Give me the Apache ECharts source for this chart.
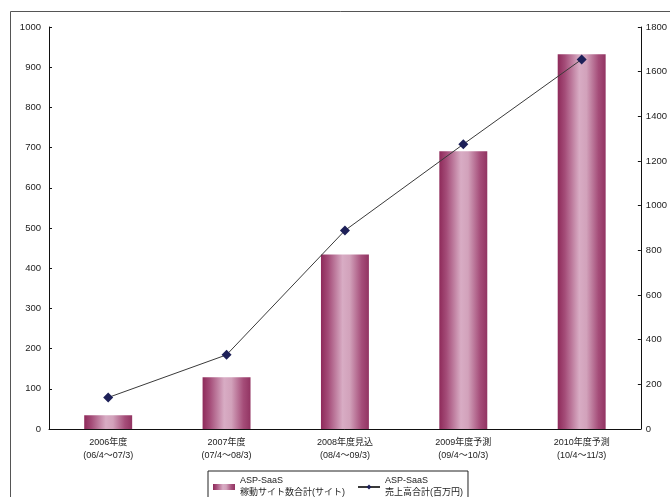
<!DOCTYPE html>
<html>
<head>
<meta charset="utf-8">
<script src="https://cdn.jsdelivr.net/npm/echarts@6/dist/echarts.min.js"></script>
<style>
html,body{margin:0;padding:0;background:#fff;}
#main{width:670px;height:497px;}
</style>
</head>
<body>
<div id="main"></div>
<script>
const categories = [
  '2006年度\n(06/4～07/3)',
  '2007年度\n(07/4～08/3)',
  '2008年度見込\n(08/4～09/3)',
  '2009年度予測\n(09/4～10/3)',
  '2010年度予測\n(10/4～11/3)'
];
const siteCounts = [34, 129, 434, 691, 932];
const salesTotals = [141, 332, 889, 1275, 1655];
const leftTicks = {min: 0, max: 1000, interval: 100};
const rightTicks = {min: 0, max: 1800, interval: 200};
const barName = 'ASP-SaaS\n稼動サイト数合計(サイト)';
const lineName = 'ASP-SaaS\n売上高合計(百万円)';

const FONT = '"Liberation Sans", "Noto Sans CJK JP", sans-serif';
const chart = echarts.init(document.getElementById('main'));
const barGrad = new echarts.graphic.LinearGradient(0, 0, 1, 0, [
  {offset: 0, color: '#8e2a5a'},
  {offset: 0.15, color: '#a44c78'},
  {offset: 0.45, color: '#d8acc4'},
  {offset: 0.6, color: '#d2a2bb'},
  {offset: 0.85, color: '#a54d79'},
  {offset: 1, color: '#923462'}
]);
const plain = v => String(v);
chart.setOption({
  animation: false,
  backgroundColor: '#fff',
  textStyle: {fontFamily: FONT},
  graphic: [{
    type: 'rect', left: 8, top: 9, silent: true,
    shape: {width: 720, height: 600},
    style: {fill: 'none', stroke: '#555', lineWidth: 1}
  }],
  grid: {left: 49, right: 29, top: 27, bottom: 68},
  legend: {
    left: 208, top: 471,
    padding: [4, 5, 4, 5],
    borderColor: '#222', borderWidth: 1,
    itemWidth: 22, itemHeight: 6, itemGap: 12,
    textStyle: {fontFamily: FONT, fontSize: 9, color: '#222', lineHeight: 12},
    data: [
      {name: barName, icon: 'rect'},
      {name: lineName}
    ]
  },
  xAxis: {
    type: 'category',
    data: categories,
    axisLine: {lineStyle: {color: '#111', width: 1}},
    axisTick: {inside: true, length: 3, lineStyle: {color: '#111'}},
    axisLabel: {fontFamily: FONT, fontSize: 9, color: '#222', lineHeight: 13, margin: 7},
    splitLine: {show: false}
  },
  yAxis: [{
    type: 'value',
    min: leftTicks.min, max: leftTicks.max, interval: leftTicks.interval,
    axisLine: {show: true, lineStyle: {color: '#111'}},
    axisTick: {show: true, inside: true, length: 3, lineStyle: {color: '#111'}},
    axisLabel: {fontFamily: FONT, fontSize: 9.5, color: '#222', margin: 8, formatter: plain},
    splitLine: {show: false}
  }, {
    type: 'value',
    position: 'right',
    min: rightTicks.min, max: rightTicks.max, interval: rightTicks.interval,
    axisLine: {show: true, lineStyle: {color: '#111'}},
    axisTick: {show: true, inside: true, length: 3, lineStyle: {color: '#111'}},
    axisLabel: {fontFamily: FONT, fontSize: 9.5, color: '#222', margin: 5, formatter: plain},
    splitLine: {show: false}
  }],
  series: [{
    name: barName,
    type: 'bar',
    yAxisIndex: 0,
    data: siteCounts,
    barWidth: '40.5%',
    itemStyle: {color: barGrad}
  }, {
    name: lineName,
    type: 'line',
    yAxisIndex: 1,
    data: salesTotals,
    symbol: 'diamond',
    symbolSize: 10,
    lineStyle: {color: '#3a3a3a', width: 1},
    itemStyle: {color: '#1d2058'}
  }]
});
</script>
</body>
</html>
